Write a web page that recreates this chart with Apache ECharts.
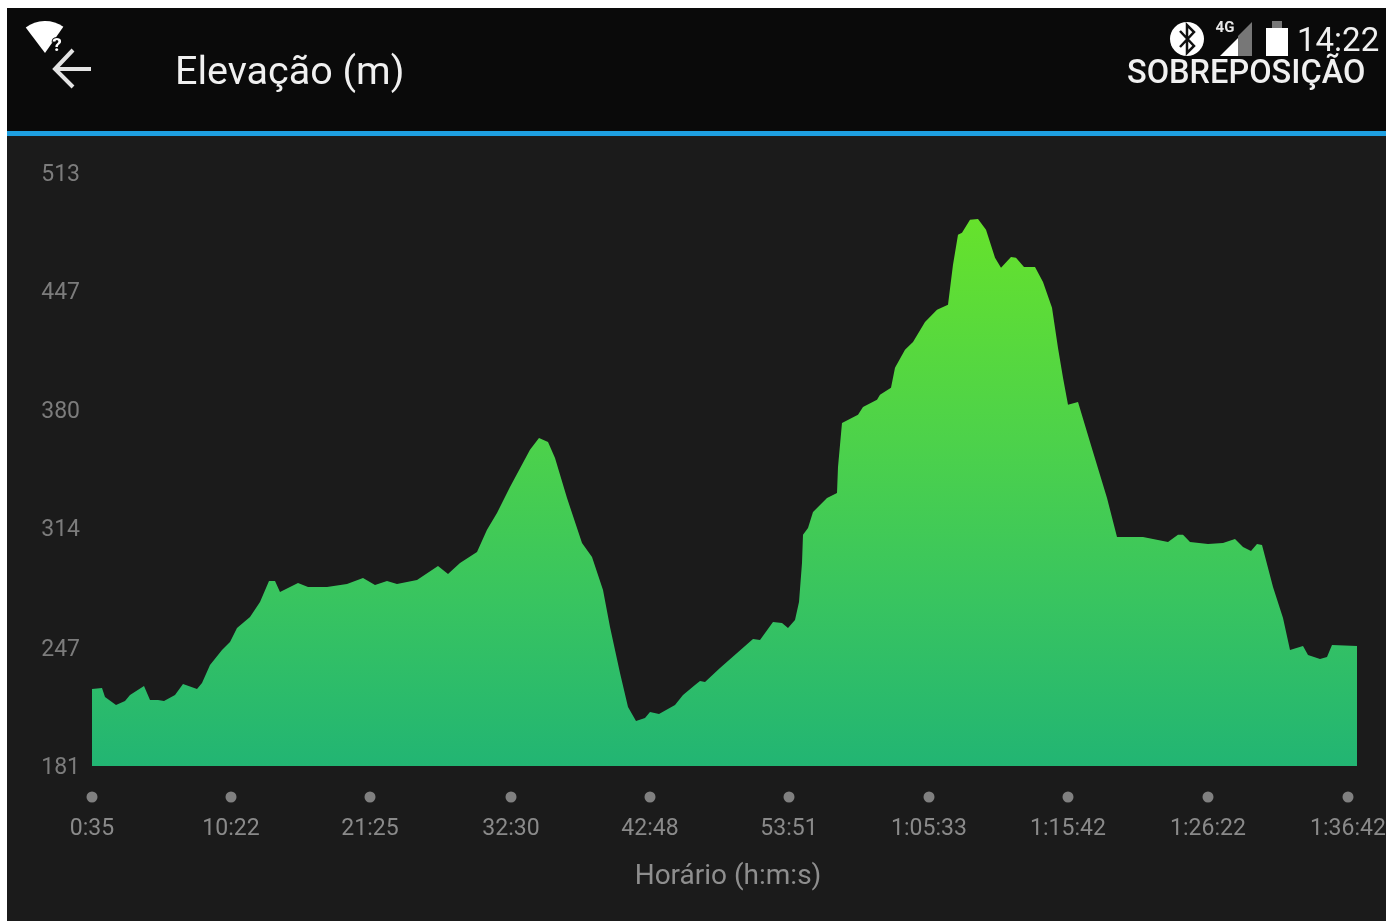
<!DOCTYPE html>
<html lang="pt">

<head>
    <meta charset="UTF-8">
    <title>Elevação (m)</title>
    <script src="https://cdn.jsdelivr.net/npm/echarts@6/dist/echarts.min.js"></script>
    <style>
        html, body { margin: 0; padding: 0; background: #fff; }
        #main { width: 1386px; height: 921px; }
    </style>
</head>

<body>
    <div id="main"></div>
    <script type="text/javascript">
        // amostra do percurso (posição no eixo) e elevação
        const samples = [0,10,13,24,33,38,52,58,66,72,83,91,105,110,118,130,138,145,158,168,177,183,188,206,216,235,255,271,283,295,
            305,325,346,356,368,385,395,405,418,438,447,456,463,475,490,500,511,518,528,536,544,553,558,567,583,591,603,608,613,628,
            661,668,681,690,696,703,707,710,711,716,721,735,745,746,750,766,771,785,788,799,803,813,821,833,845,856,861,866,870,878,
            886,894,903,909,919,924,932,943,951,960,966,971,976,986,998,1015,1025,1026,1051,1076,1086,1091,1098,1116,1131,1143,1151,1159,1165,1170,
            1181,1191,1198,1211,1216,1228,1235,1240,1265];
        const elevation = [224.1,224.7,219.6,215.2,217.4,220.8,225.8,218,218,217.4,220.8,226.9,224.1,227.5,237.6,246,250.4,258.3,264.4,272.8,284.6,284.6,278.4,283.5,281.2,281.2,282.9,286.3,282.4,284.6,
            282.9,285.2,293,288.5,294.7,300.8,313.2,322.7,337.2,358,364.7,362.4,353.5,331,305.9,298,279.6,258.8,233.1,214,206.2,207.9,211.2,210.1,215.2,220.8,226.4,228.6,228,235.9,
            252.1,251.6,261.6,261.1,258.3,262.8,272.8,294.7,310.4,314.3,323.2,331.1,333.9,348.4,373.1,377.6,382,386,388.8,392.7,403.9,414,418.4,429.6,436.4,439.2,461.6,478.4,479.5,486.8,
            487.3,481.2,465.5,459.9,466,465.5,460.4,460.4,452,437.5,415,398.3,383.2,384.8,362.4,331,309.2,308.7,309.2,306.4,310.4,310.4,306.4,305.3,305.9,308.1,303.6,301.4,305.3,304.8,
            281.2,263.9,246,248.2,243.2,240.9,242,248.8,248.2];
        const xTicks = [0,139,278,419,558,697,837,976,1116,1256];
        const xLabels = ['0:35','10:22','21:25','32:30','42:48','53:51','1:05:33','1:15:42','1:26:22','1:36:42'];
        const yTicks = [181,247,314,380,447,513];

        const fonte = 'Roboto';
        const grafico = echarts.init(document.getElementById('main'), null, { renderer: 'canvas' });

        // cabeçalho do aplicativo e barra de status
        const chrome = [
            { type: 'rect', shape: { x: 7, y: 8, width: 1379, height: 913 }, style: { fill: '#1b1b1b' } },
            { type: 'rect', shape: { x: 7, y: 8, width: 1379, height: 123 }, style: { fill: '#0a0a0a' } },
            { type: 'rect', shape: { x: 7, y: 131, width: 1379, height: 5 }, style: { fill: '#1e9fe0' } },
            { type: 'sector', shape: { cx: 45, cy: 53, r: 32, r0: 0, startAngle: -127 * Math.PI / 180, endAngle: -55 * Math.PI / 180 }, style: { fill: '#fff' } },
            { type: 'text', style: { text: '?', x: 57, y: 46, fill: '#fff', font: 'bold 19px ' + fonte, textAlign: 'center', textVerticalAlign: 'middle', stroke: '#0a0a0a', lineWidth: 2 } },
            { type: 'polyline', shape: { points: [[55, 69], [91, 69]] }, style: { stroke: '#e4e4e4', lineWidth: 4, fill: null } },
            { type: 'polyline', shape: { points: [[73, 50], [55, 69], [73, 87]] }, style: { stroke: '#e4e4e4', lineWidth: 4, fill: null } },
            { type: 'text', style: { text: 'Elevação (m)', x: 175, y: 74, fill: '#f0f0f0', font: '39.5px ' + fonte, textVerticalAlign: 'middle' } },
            { type: 'circle', shape: { cx: 1187, cy: 39, r: 17 }, style: { fill: '#fff' } },
            { type: 'polyline', shape: { points: [[1180, 31], [1194, 46], [1187, 53], [1187, 25], [1194, 32], [1180, 47]] }, style: { stroke: '#111', lineWidth: 2.5, fill: null } },
            { type: 'text', style: { text: '4G', x: 1225, y: 28, fill: '#e8e8e8', font: 'bold 15px ' + fonte, textAlign: 'center', textVerticalAlign: 'middle' } },
            { type: 'polygon', shape: { points: [[1238, 56], [1238, 36], [1252, 22], [1252, 56]] }, style: { fill: '#777' } },
            { type: 'polygon', shape: { points: [[1220, 56], [1238, 38], [1238, 56]] }, style: { fill: '#fff' } },
            { type: 'rect', shape: { x: 1272, y: 21, width: 10, height: 7 }, style: { fill: '#777' } },
            { type: 'rect', shape: { x: 1266, y: 28, width: 22, height: 28 }, style: { fill: '#fff' } },
            { type: 'text', style: { text: '14:22', x: 1297, y: 43, fill: '#f0f0f0', font: '33px ' + fonte, textVerticalAlign: 'middle' } },
            { type: 'text', style: { text: 'SOBREPOSIÇÃO', x: 1127, y: 75, fill: '#f0f0f0', font: '500 32.5px ' + fonte, textVerticalAlign: 'middle' } }
        ];

        const option = {
            animation: false,
            backgroundColor: '#fff',
            graphic: chrome,
            grid: [
                { left: 92, width: 1265, top: 173, height: 593, outerBoundsMode: 'none' },
                { left: 92, width: 1265, top: 791, height: 12, outerBoundsMode: 'none' }
            ],
            xAxis: [
                { type: 'value', gridIndex: 0, min: 0, max: 1265, show: false },
                {
                    type: 'value', gridIndex: 1, min: 0, max: 1265,
                    axisLine: { show: false }, axisTick: { show: false }, splitLine: { show: false },
                    axisLabel: {
                        customValues: xTicks,
                        formatter: (v) => xLabels[xTicks.indexOf(v)],
                        color: '#8a8a8a', fontFamily: fonte, fontSize: 23, margin: 15
                    },
                    name: 'Horário (h:m:s)', nameLocation: 'middle', nameGap: 60,
                    nameTextStyle: { color: '#8e8e8e', fontFamily: fonte, fontSize: 28, padding: [0, 0, 0, 7] }
                }
            ],
            yAxis: [
                {
                    type: 'value', gridIndex: 0, min: 181, max: 513,
                    axisLine: { show: false }, axisTick: { show: false }, splitLine: { show: false },
                    axisLabel: {
                        customValues: yTicks,
                        margin: 12,
                        formatter: '{v|{value}}',
                        rich: { v: { color: '#7c7c7c', fontFamily: fonte, fontSize: 23, padding: [4, 0, 0, 0] } }
                    }
                },
                { type: 'value', gridIndex: 1, min: -1, max: 1, show: false }
            ],
            series: [
                {
                    type: 'line', xAxisIndex: 0, yAxisIndex: 0,
                    data: samples.map((s, i) => [s, elevation[i]]),
                    symbol: 'none',
                    lineStyle: { width: 0 },
                    areaStyle: {
                        opacity: 1,
                        origin: 'start',
                        color: new echarts.graphic.LinearGradient(0, 0, 0, 1, [
                            { offset: 0, color: '#66e22c' },
                            { offset: 0.4, color: '#4dd24a' },
                            { offset: 0.7, color: '#38c460' },
                            { offset: 1, color: '#22b573' }
                        ])
                    }
                },
                {
                    type: 'scatter', xAxisIndex: 1, yAxisIndex: 1,
                    data: xTicks.map((t) => [t, 0]),
                    symbol: 'circle', symbolSize: 11, clip: false,
                    itemStyle: { color: '#9a9a9a' }
                }
            ]
        };
        grafico.setOption(option);
    </script>
</body>

</html>
